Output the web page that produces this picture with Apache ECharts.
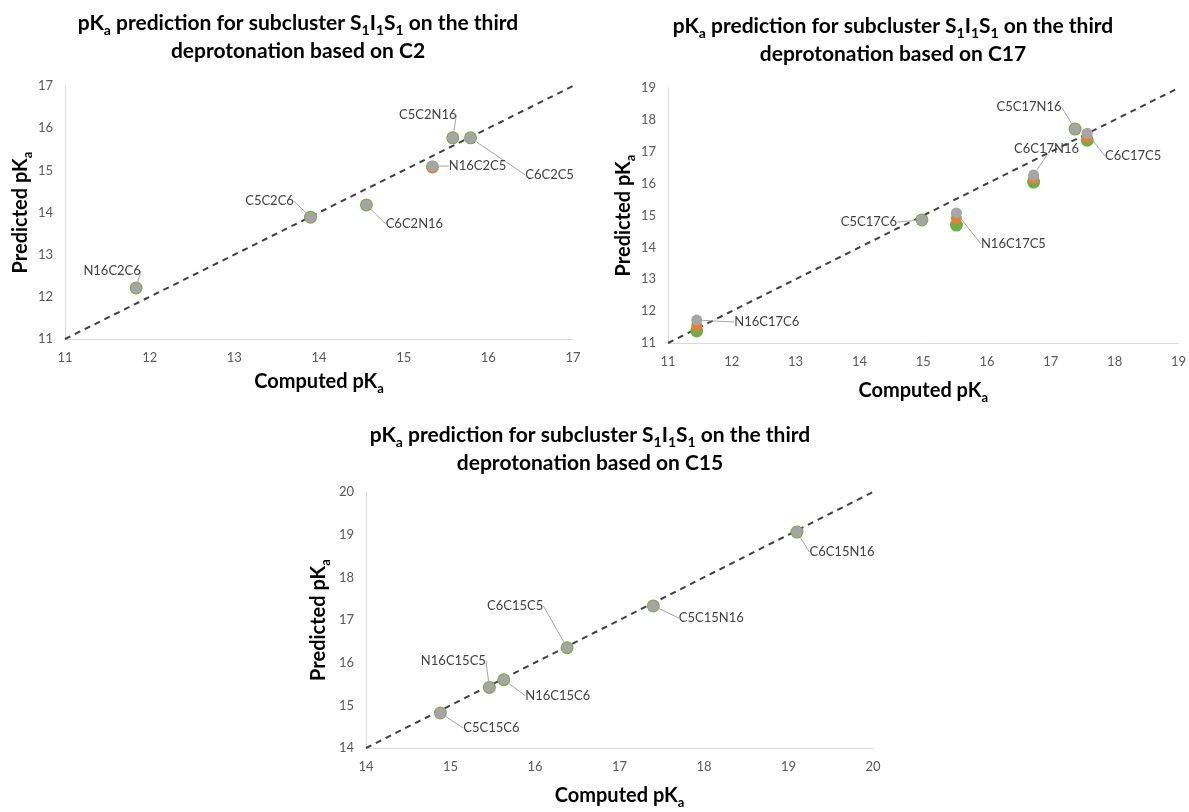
<!DOCTYPE html>
<html>
<head>
<meta charset="utf-8">
<script src="https://cdn.jsdelivr.net/npm/echarts@6/dist/echarts.min.js"></script>
<style>html,body{margin:0;padding:0;background:#fff}#c{width:1189px;height:812px}</style>
</head>
<body>
<div id="c"></div>
<script>
// ---- Data: chart based on C2 ----
const c2Names = ['N16C2C6','C5C2C6','C6C2N16','N16C2C5','C5C2N16','C6C2C5'];
const c2Computed = [11.84,13.90,14.56,15.34,15.58,15.79];
const c2PredGreen = [12.21,13.89,14.18,15.08,15.77,15.77];
const c2PredOrange = [12.21,13.89,14.18,15.07,15.77,15.77];
const c2PredGray = [12.21,13.89,14.18,15.10,15.77,15.77];
const c2Diag = [[11,11],[17,17]];
const c2Ticks = [11,12,13,14,15,16,17];

// ---- Data: chart based on C17 ----
const c17Names = ['N16C17C6','C5C17C6','N16C17C5','C6C17N16','C5C17N16','C6C17C5'];
const c17Computed = [11.45,14.98,15.52,16.73,17.38,17.57];
const c17PredGreen = [11.38,14.86,14.70,16.05,17.71,17.36];
const c17PredOrange = [11.55,14.86,14.92,16.17,17.71,17.46];
const c17PredGray = [11.72,14.86,15.08,16.27,17.71,17.58];
const c17Diag = [[11,11],[19,19]];
const c17Ticks = [11,12,13,14,15,16,17,18,19];

// ---- Data: chart based on C15 ----
const c15Names = ['C5C15C6','N16C15C5','N16C15C6','C6C15C5','C5C15N16','C6C15N16'];
const c15Computed = [14.88,15.46,15.63,16.38,17.40,19.10];
const c15PredGreen = [14.82,15.42,15.60,16.35,17.33,19.06];
const c15PredOrange = [14.82,15.42,15.60,16.35,17.33,19.06];
const c15PredGray = [14.82,15.42,15.60,16.35,17.33,19.06];
const c15Diag = [[14,14],[20,20]];
const c15Ticks = [14,15,16,17,18,19,20];

// ---- Layout (label offsets in px, not data) ----
const c2LabelOffsets = [[-24,-17],[-41,-16],[48,19],[45,0],[-25,-23],[79,37]];
const c17LabelOffsets = [[70,2],[-53,2],[57,31],[13,-26],[-46,-22],[46,23]];
const c15LabelOffsets = [[51,15],[-36,-27],[54,16],[-52,-42],[58,12],[45,20]];

const FONT = 'Lato, "Liberation Sans", sans-serif';
const zip = (xs, ys) => xs.map((x, i) => [x, ys[i], i]);

const titleRich = {
  b: {fontFamily: FONT, fontWeight: 'bold', fontSize: 21, color: '#000', lineHeight: 28},
  s: {fontFamily: FONT, fontWeight: 'bold', fontSize: 14, color: '#000', lineHeight: 12, verticalAlign: 'bottom'}
};
const nameRich = {
  b: {fontFamily: FONT, fontWeight: 'bold', fontSize: 20, color: '#000', lineHeight: 26},
  s: {fontFamily: FONT, fontWeight: 'bold', fontSize: 13, color: '#000', lineHeight: 10, verticalAlign: 'bottom'}
};
function titleText(base) {
  return '{b|pK}{s|a}{b| prediction for subcluster S}{s|1}{b|I}{s|1}{b|S}{s|1}{b| on the third}\n{b|deprotonation based on ' + base + '}';
}

function makeAxis(gridIndex, ticks, name, gap) {
  return {
    type: 'value', gridIndex,
    min: ticks[0], max: ticks[ticks.length - 1], interval: 1,
    name: name, nameLocation: 'middle', nameGap: gap,
    nameTextStyle: {rich: nameRich},
    axisLine: {show: true, lineStyle: {color: '#d9d9d9', width: 1}},
    axisTick: {show: false},
    splitLine: {show: false},
    axisLabel: {color: '#595959', fontFamily: FONT, fontSize: 13, margin: 12}
  };
}

function scatterSeries(idx, xs, ys, color, size, names, offsets, withLabel, z) {
  const s = {
    type: 'scatter', xAxisIndex: idx, yAxisIndex: idx,
    data: zip(xs, ys), symbolSize: size, z: z,
    itemStyle: {color: color, opacity: 1},
    silent: true
  };
  if (withLabel) {
    s.label = {
      show: true, position: 'inside',
      formatter: p => names[p.data[2]],
      color: '#404040', fontFamily: FONT, fontSize: 13
    };
    s.labelLine = {show: true, lineStyle: {color: '#a6a6a6', width: 1}};
    s.labelLayout = p => ({dx: offsets[p.dataIndex][0], dy: offsets[p.dataIndex][1]});
  }
  return s;
}
function diagSeries(idx, diag) {
  return {
    type: 'line', xAxisIndex: idx, yAxisIndex: idx, data: diag,
    symbol: 'none', silent: true, z: 1,
    lineStyle: {color: '#404040', width: 2, type: [6, 5]}
  };
}

const charts = [
  {base: 'C2', names: c2Names, x: c2Computed, g: c2PredGreen, o: c2PredOrange, r: c2PredGray, diag: c2Diag, ticks: c2Ticks, off: c2LabelOffsets,
   grid: {left: 65, top: 86, width: 508, height: 253}, tx: 298, ty: 4, xGap: 30, yGap: 30},
  {base: 'C17', names: c17Names, x: c17Computed, g: c17PredGreen, o: c17PredOrange, r: c17PredGray, diag: c17Diag, ticks: c17Ticks, off: c17LabelOffsets,
   grid: {left: 668, top: 88, width: 513, height: 255}, tx: 893, ty: 7, xGap: 35, yGap: 30},
  {base: 'C15', names: c15Names, x: c15Computed, g: c15PredGreen, o: c15PredOrange, r: c15PredGray, diag: c15Diag, ticks: c15Ticks, off: c15LabelOffsets,
   grid: {left: 366, top: 492, width: 507, height: 256}, tx: 590, ty: 416, xGap: 35, yGap: 34}
];

const option = {
  backgroundColor: '#fff',
  animation: false,
  title: charts.map(c => ({
    text: titleText(c.base), left: c.tx - 5, top: c.ty, textAlign: 'center',
    textStyle: {rich: titleRich}
  })),
  grid: charts.map(c => Object.assign({containLabel: false}, c.grid)),
  xAxis: charts.map((c, i) => makeAxis(i, c.ticks, '{b|Computed pK}{s|a}', c.xGap)),
  yAxis: charts.map((c, i) => makeAxis(i, c.ticks, '{b|Predicted pK}{s|a}', c.yGap)),
  series: charts.flatMap((c, i) => [
    diagSeries(i, c.diag),
    scatterSeries(i, c.x, c.g, '#70ad47', 13, c.names, c.off, false, 2),
    scatterSeries(i, c.x, c.o, '#ed7d31', 11, c.names, c.off, false, 3),
    scatterSeries(i, c.x, c.r, '#a5a5a5', 11, c.names, c.off, true, 4)
  ])
};

const chart = echarts.init(document.getElementById('c'), null, {renderer: 'canvas'});
chart.setOption(option);
</script>
</body>
</html>
